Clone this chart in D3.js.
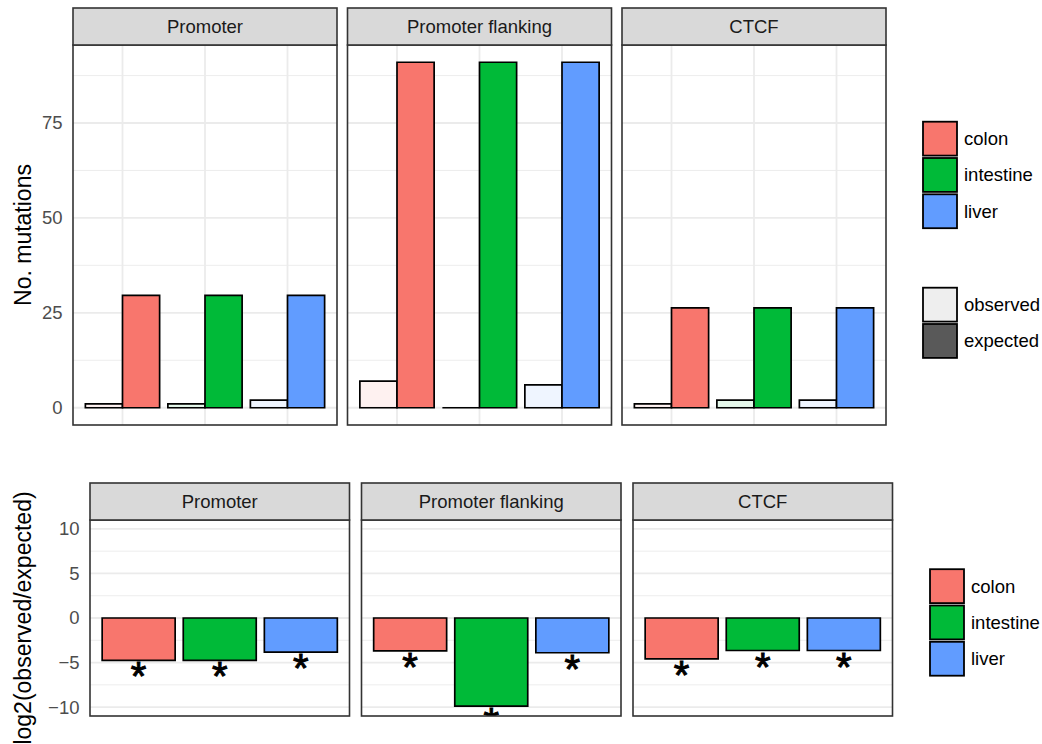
<!DOCTYPE html>
<html>
<head>
<meta charset="utf-8">
<script src="https://cdn.jsdelivr.net/npm/d3@7"></script>
<style>
  body { margin: 0; background: #fff; }
  svg text { font-family: "Liberation Sans", Arial, sans-serif; }
</style>
</head>
<body>
<svg id="chart" width="1042" height="744"></svg>
<script>
// ---- data ----
const regions = ["Promoter", "Promoter flanking", "CTCF"];
const tissues = ["colon", "intestine", "liver"];
const tissueColors = ["#F8766D", "#00BA38", "#619CFF"];
const types = ["observed", "expected"];
const typeAlpha = [0.1, 1];
// one row per region, values in tissue order
const observedCounts = [[1, 1, 2], [7, 0, 6], [1, 2, 2]];
const expectedCounts = [[29.6, 29.6, 29.6], [91, 91, 91], [26.3, 26.3, 26.3]];
const log2Ratio = [[-4.75, -4.75, -3.82], [-3.68, -9.9, -3.9], [-4.58, -3.65, -3.65]];
const signifLabels = [["*", "*", "*"], ["*", "*", "*"], ["*", "*", "*"]];
const countTicks = [0, 25, 50, 75];
const countMinor = [12.5, 37.5, 62.5, 87.5];
const ratioTicks = [-10, -5, 0, 5, 10];
const ratioMinor = [-7.5, -2.5, 2.5, 7.5];

var svg = d3.select("#chart");
var color = d3.scaleOrdinal().domain(tissues).range(tissueColors);
var alpha = d3.scaleOrdinal().domain(types).range(typeAlpha);

// path instead of rect so zero-height bars still show their outline
function barPath(x, y0, w, y1) {
    return "M" + x + "," + y0 + "H" + (x + w) + "V" + y1 + "H" + x + "Z";
}

// draws one row of facets
function facetRow(opt) {
    regions.forEach(function (region, i) {
        var x0 = opt.left + i * opt.step,
            x1 = x0 + opt.panelW;
        var g = svg.append("g");

        var x = d3.scaleBand().domain(tissues).range([x0, x1])
            .paddingInner(0.1).paddingOuter(0.15);
        var y = opt.y;

        // grid
        g.selectAll(".minor").data(opt.minor).enter().append("line")
            .attr("x1", x0).attr("x2", x1)
            .attr("y1", d => y(d)).attr("y2", d => y(d))
            .attr("stroke", "#EBEBEB").attr("stroke-width", 0.9);
        g.selectAll(".major").data(opt.ticks).enter().append("line")
            .attr("x1", x0).attr("x2", x1)
            .attr("y1", d => y(d)).attr("y2", d => y(d))
            .attr("stroke", "#EBEBEB").attr("stroke-width", 1.8);
        if (opt.vGrid) {
            g.selectAll(".vgrid").data(tissues).enter().append("line")
                .attr("x1", d => x(d) + x.bandwidth() / 2).attr("x2", d => x(d) + x.bandwidth() / 2)
                .attr("y1", y.range()[0]).attr("y2", y.range()[1])
                .attr("stroke", "#EBEBEB").attr("stroke-width", 1.8);
        }

        // clip for the panel contents
        var clipId = opt.name + "clip" + i;
        svg.append("clipPath").attr("id", clipId).append("rect")
            .attr("x", x0).attr("y", y.range()[1])
            .attr("width", opt.panelW).attr("height", y.range()[0] - y.range()[1]);
        var inner = g.append("g").attr("clip-path", "url(#" + clipId + ")");

        opt.drawBars(inner, x, y, i);

        // panel border
        g.append("rect")
            .attr("x", x0).attr("y", y.range()[1])
            .attr("width", opt.panelW).attr("height", y.range()[0] - y.range()[1])
            .attr("fill", "none").attr("stroke", "#333333").attr("stroke-width", 1.6);

        // strip
        g.append("rect")
            .attr("x", x0).attr("y", opt.stripTop)
            .attr("width", opt.panelW).attr("height", y.range()[1] - opt.stripTop)
            .attr("fill", "#D9D9D9").attr("stroke", "#333333").attr("stroke-width", 1.6);
        g.append("text")
            .attr("x", (x0 + x1) / 2).attr("y", (opt.stripTop + y.range()[1]) / 2)
            .attr("dy", "0.35em")
            .attr("text-anchor", "middle")
            .attr("fill", "#1A1A1A").style("font-size", "18.5px")
            .text(region);

        // y tick labels on first panel only
        if (i === 0) {
            svg.selectAll(null).data(opt.ticks).enter().append("text")
                .attr("x", x0 - 10.5).attr("y", d => y(d)).attr("dy", "0.35em")
                .attr("text-anchor", "end").attr("fill", "#4D4D4D")
                .style("font-size", "18.5px")
                .text(d => d < 0 ? "\u2212" + Math.abs(d) : d);
        }
    });

    // axis title
    var yMid = (opt.y.range()[0] + opt.y.range()[1]) / 2;
    svg.append("text")
        .attr("transform", "translate(30.5," + yMid + ") rotate(-90)")
        .attr("text-anchor", "middle")
        .style("font-size", "23px")
        .text(opt.title);
}

function legend(items, fills, left, top) {
    var step = 36.3;
    var lg = svg.append("g");
    items.forEach(function (name, k) {
        lg.append("rect")
            .attr("x", left).attr("y", top + k * step + 1.2)
            .attr("width", 34).attr("height", step - 2.4)
            .attr("fill", fills[k].fill).attr("fill-opacity", fills[k].op)
            .attr("stroke", "#000").attr("stroke-width", 1.8);
        lg.append("text")
            .attr("x", left + 41).attr("y", top + k * step + step / 2).attr("dy", "0.35em")
            .style("font-size", "18.5px")
            .text(name);
    });
}

// ---- top row: counts ----
var maxCount = d3.max(expectedCounts.flat().concat(observedCounts.flat()));
var yCount = d3.scaleLinear()
    .domain([-0.05 * maxCount, 1.05 * maxCount])
    .range([425, 45]);

facetRow({
    name: "top", left: 73, step: 274.5, panelW: 264, stripTop: 8,
    y: yCount, ticks: countTicks, minor: countMinor, vGrid: true,
    title: "No. mutations",
    drawBars: function (g, x, y, i) {
        var sub = d3.scaleBand().domain(types).range([0, x.bandwidth()]);
        tissues.forEach(function (t, j) {
            var vals = [observedCounts[i][j], expectedCounts[i][j]];
            types.forEach(function (tp, k) {
                g.append("path")
                    .attr("d", barPath(x(t) + sub(tp), y(0), sub.bandwidth(), y(vals[k])))
                    .attr("fill", color(t)).attr("fill-opacity", alpha(tp))
                    .attr("stroke", "#000").attr("stroke-width", 1.7);
            });
        });
    }
});

// ---- bottom row: log2 ratio ----
var yRatio = d3.scaleLinear().domain([-11, 11]).range([716, 520]);

facetRow({
    name: "bottom", left: 90, step: 271.5, panelW: 259.5, stripTop: 483,
    y: yRatio, ticks: ratioTicks, minor: ratioMinor, vGrid: false,
    title: "log2(observed/expected)",
    drawBars: function (g, x, y, i) {
        tissues.forEach(function (t, j) {
            var v = log2Ratio[i][j];
            g.append("path")
                .attr("d", barPath(x(t), y(0), x.bandwidth(), y(v)))
                .attr("fill", color(t))
                .attr("stroke", "#000").attr("stroke-width", 1.7);
            g.append("text")
                .attr("x", x(t) + x.bandwidth() / 2)
                .attr("y", y(v) + 30)
                .attr("text-anchor", "middle")
                .attr("stroke", "#000").attr("stroke-width", 1)
                .style("font-size", "40px")
                .text(signifLabels[i][j]);
        });
    }
});

// ---- legends ----
legend(tissues, tissueColors.map(c => ({ fill: c, op: 1 })), 923, 120.5);
legend(types, types.map(tp => ({ fill: "#595959", op: alpha(tp) })), 923, 286.5);
legend(tissues, tissueColors.map(c => ({ fill: c, op: 1 })), 930, 568);
</script>
</body>
</html>
